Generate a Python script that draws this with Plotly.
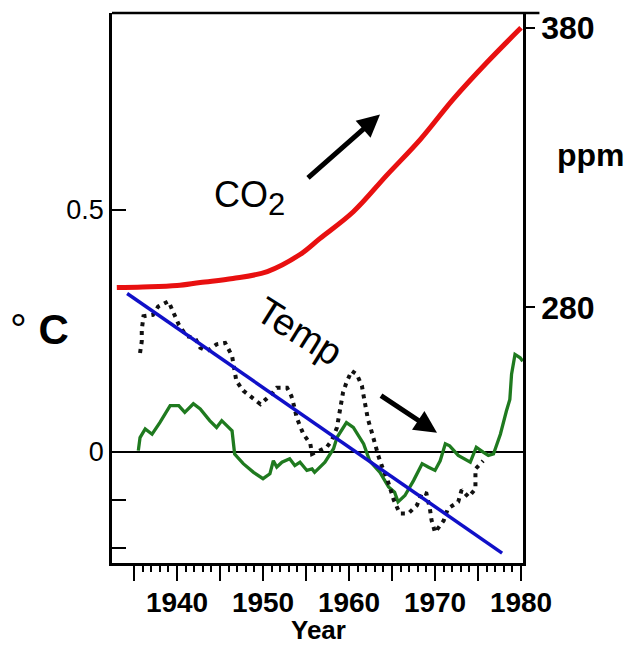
import plotly.graph_objects as go

# ---- data ----
co2_years = [1933.0, 1936.0, 1940.0, 1942.7, 1946.5, 1950.5, 1954.3, 1956.6, 1960.5, 1964.4, 1968.3, 1972.1, 1976.0, 1980.0]
co2_ppm = [287.1, 287.3, 287.8, 288.9, 290.3, 292.8, 298.9, 304.6, 314.2, 327.3, 340.1, 354.4, 367.5, 380.0]

trend_years = [1934.2, 1977.8]
trend_temp = [0.327, -0.210]

dot_years = [1935.7, 1935.9, 1935.9, 1936.1, 1937.2, 1937.8, 1939.0, 1939.6, 1940.2, 1941.1, 1942.1, 1942.7,
             1943.5, 1944.6, 1945.6, 1946.4, 1946.9, 1947.7, 1948.7, 1949.7, 1951.0, 1951.6, 1952.8, 1953.3,
             1953.7, 1953.9, 1954.3, 1954.7, 1955.5, 1955.7, 1957.4, 1958.0, 1958.6, 1958.8, 1959.3, 1959.7,
             1960.3, 1960.9, 1961.5, 1961.7, 1961.9, 1962.2, 1962.6, 1963.0, 1963.4, 1963.8, 1964.5, 1965.2,
             1965.9, 1966.9, 1967.9, 1968.5, 1969.0, 1969.4, 1969.6, 1970.0, 1971.0, 1971.5, 1972.7, 1973.1,
             1973.9, 1974.7, 1974.7, 1974.7, 1975.6]
dot_temp = [0.204, 0.228, 0.252, 0.280, 0.283, 0.300, 0.311, 0.287, 0.263, 0.239, 0.235, 0.215,
            0.208, 0.222, 0.225, 0.198, 0.146, 0.126, 0.112, 0.098, 0.119, 0.132, 0.132, 0.115,
            0.088, 0.071, 0.053, 0.036, 0.016, -0.005, 0.009, 0.023, 0.050, 0.071, 0.122, 0.143,
            0.167, 0.160, 0.136, 0.115, 0.091, 0.067, 0.043, 0.016, -0.008, -0.029, -0.060, -0.100,
            -0.128, -0.128, -0.111, -0.084, -0.087, -0.118, -0.142, -0.167, -0.143, -0.118, -0.104, -0.079,
            -0.094, -0.077, -0.056, -0.036, -0.019]

green_years = [1935.5, 1935.7, 1936.3, 1937.1, 1938.0, 1939.2, 1940.2, 1940.9, 1941.9, 1942.7, 1943.8, 1944.6,
               1945.2, 1946.4, 1946.7, 1947.7, 1948.9, 1950.0, 1950.8, 1951.2, 1951.6, 1952.2, 1953.1, 1953.7,
               1954.3, 1955.1, 1955.7, 1956.0, 1957.2, 1958.2, 1958.6, 1959.7, 1960.5, 1961.7, 1962.4, 1963.6,
               1964.6, 1965.3, 1965.7, 1966.5, 1967.5, 1968.5, 1969.2, 1970.0, 1970.6, 1971.2, 1971.7, 1972.7,
               1974.1, 1974.8, 1975.6, 1976.2, 1976.8, 1977.6, 1978.3, 1978.7, 1978.9, 1979.3, 1979.9, 1980.2]
green_temp = [0.002, 0.029, 0.047, 0.036, 0.060, 0.095, 0.095, 0.081, 0.099, 0.088, 0.064, 0.050,
              0.064, 0.043, -0.005, -0.025, -0.043, -0.056, -0.046, -0.019, -0.032, -0.022, -0.015, -0.029,
              -0.022, -0.039, -0.036, -0.043, -0.022, 0.006, 0.029, 0.060, 0.050, 0.016, -0.019, -0.043,
              -0.073, -0.084, -0.104, -0.091, -0.060, -0.025, -0.032, -0.039, -0.019, 0.016, 0.012, -0.008,
              -0.022, 0.009, -0.001, -0.008, -0.005, 0.036, 0.084, 0.108, 0.160, 0.201, 0.194, 0.187]

x_major = [1935, 1940, 1945, 1950, 1955, 1960, 1965, 1970, 1975, 1980]
x_labels = ["", "1940", "", "1950", "", "1960", "", "1970", "", "1980"]
x_minor = list(range(1935, 1981))
y_ticks = [0.5, 0, -0.1, -0.2]
y_labels = ["0.5", "0", "", ""]
y2_ticks = [280, 380]
y2_labels = ["280", "380"]

FONT = "Liberation Sans, Arial, sans-serif"
XR = [1932.44, 1980.23]

fig = go.Figure()
fig.add_trace(go.Scatter(x=green_years, y=green_temp, mode="lines",
                         line=dict(color="#1f7a1f", width=3.3), hoverinfo="skip"))
fig.add_trace(go.Scatter(x=dot_years, y=dot_temp, mode="lines",
                         line=dict(color="#111111", width=4, dash="4px,5px"), hoverinfo="skip"))
fig.add_trace(go.Scatter(x=trend_years, y=trend_temp, mode="lines",
                         line=dict(color="#1010c8", width=3.5), hoverinfo="skip"))
fig.add_trace(go.Scatter(x=co2_years, y=co2_ppm, mode="lines", yaxis="y2",
                         line=dict(color="#e81010", width=5, shape="spline"), hoverinfo="skip"))
# invisible trace carrying the minor-tick axis
fig.add_trace(go.Scatter(x=[x_minor[0]], y=[0], xaxis="x2", mode="markers",
                         marker=dict(opacity=0), hoverinfo="skip"))

fig.update_layout(
    width=632, height=647,
    margin=dict(l=112, r=109, t=10, b=84),
    paper_bgcolor="white", plot_bgcolor="white",
    showlegend=False,
    font=dict(family=FONT, color="black"),
    xaxis=dict(range=XR, showgrid=False, zeroline=False,
               showline=True, linecolor="black", linewidth=2.5,
               tickmode="array", tickvals=x_major, ticktext=x_labels,
               ticks="outside", ticklen=15, tickwidth=2, tickcolor="black",
               tickangle=0, ticklabelstandoff=-2,
               tickfont=dict(size=28, family=FONT, color="black", weight="bold")),
    xaxis2=dict(range=XR, overlaying="x", anchor="y", side="bottom",
                showgrid=False, zeroline=False, showline=False,
                tickmode="array", tickvals=x_minor, showticklabels=False,
                ticks="outside", ticklen=8, tickwidth=2, tickcolor="black"),
    yaxis=dict(range=[-0.2305, 0.9074], showgrid=False,
               zeroline=True, zerolinecolor="black", zerolinewidth=2,
               showline=True, linecolor="black", linewidth=2.5,
               tickmode="array", tickvals=y_ticks, ticktext=y_labels,
               ticks="inside", ticklen=14, tickwidth=2, tickcolor="black",
               tickfont=dict(size=27, family=FONT, color="black")),
    yaxis2=dict(range=[188.54, 385.3], overlaying="y", side="right",
                showgrid=False, zeroline=False,
                showline=True, linecolor="black", linewidth=2.5,
                tickmode="array", tickvals=y2_ticks, ticktext=y2_labels,
                ticks="outside", ticklen=9, tickwidth=2, tickcolor="black",
                tickfont=dict(size=32, family=FONT, color="black", weight="bold")),
)

# top border of the box (extends slightly past the right axis)
fig.add_shape(type="line", xref="paper", yref="paper", x0=0, x1=1.04, y0=1, y1=1,
              line=dict(color="black", width=2.5))

def px_x(p):
    return (p - 112) / 411.0

def px_y(p):
    return (563 - p) / 553.0

# unit labels
fig.add_annotation(text="° <b>C</b>", x=px_x(39), y=px_y(328),
                   xref="paper", yref="paper", showarrow=False, xanchor="center", yanchor="middle",
                   font=dict(size=42, family=FONT, color="black"))
fig.add_annotation(text="<b>ppm</b>", x=px_x(591), y=px_y(153), xref="paper", yref="paper",
                   showarrow=False, xanchor="center", yanchor="middle",
                   font=dict(size=32, family=FONT, color="black"))
fig.add_annotation(text="<b>Year</b>", x=px_x(318), y=px_y(647), xref="paper", yref="paper",
                   showarrow=False, xanchor="center", yanchor="bottom",
                   font=dict(size=26, family=FONT, color="black"))

fig.add_annotation(text='CO<sub><span style="font-size:31px">2</span></sub>', x=px_x(249), y=px_y(196),
                   xref="paper", yref="paper", showarrow=False, xanchor="center", yanchor="middle",
                   font=dict(size=36, family=FONT, color="black"))
fig.add_annotation(text="Temp", x=px_x(299), y=px_y(330), xref="paper", yref="paper",
                   showarrow=False, xanchor="center", yanchor="middle", textangle=32,
                   font=dict(size=38, family=FONT, color="black"))

# arrows
fig.add_annotation(x=px_x(380), y=px_y(112), xref="paper", yref="paper", text=" ",
                   showarrow=True, ax=-75, ay=66, arrowhead=2, arrowsize=0.9,
                   arrowwidth=5, arrowcolor="black", standoff=0)
fig.add_annotation(x=px_x(437), y=px_y(432), xref="paper", yref="paper", text=" ",
                   showarrow=True, ax=-59, ay=-39, arrowhead=2, arrowsize=0.9,
                   arrowwidth=5, arrowcolor="black", standoff=0)

fig.write_html("out.html")
